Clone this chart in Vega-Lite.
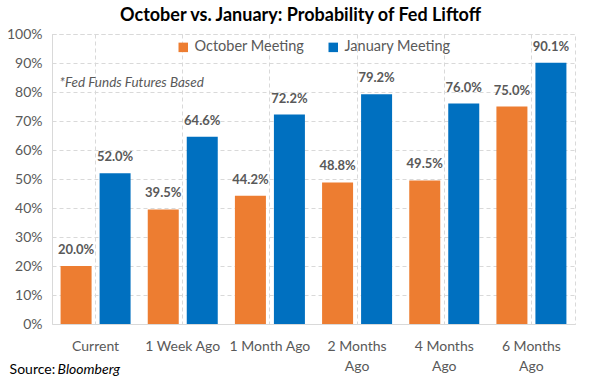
{
  "$schema": "https://vega.github.io/schema/vega-lite/v6.json",
  "width": 523,
  "height": 290,
  "autosize": {"type": "none"},
  "padding": {"left": 52, "top": 34, "right": 14, "bottom": 59},
  "background": "white",
  "title": {"text": "October vs. January: Probability of Fed Liftoff", "font": "Lato", "fontSize": 18, "fontWeight": "bold", "color": "#000000", "anchor": "middle", "dx": -13, "offset": 2},
  "config": {
    "font": "Lato",
    "view": {"stroke": "#d9d9d9", "strokeDash": [4, 3]},
    "axis": {"labelFont": "Lato", "labelFontSize": 14, "labelColor": "#595959", "ticks": false, "domainColor": "#d9d9d9", "gridColor": "#d9d9d9", "gridDash": [4, 3], "title": null}
  },
  "resolve": {"scale": {"y": "independent"}, "axis": {"y": "independent"}},
  "data": {"values": [
    {"cat": "Current", "series": "October Meeting", "v": 0.200},
    {"cat": "Current", "series": "January Meeting", "v": 0.520},
    {"cat": "1 Week Ago", "series": "October Meeting", "v": 0.395},
    {"cat": "1 Week Ago", "series": "January Meeting", "v": 0.646},
    {"cat": "1 Month Ago", "series": "October Meeting", "v": 0.442},
    {"cat": "1 Month Ago", "series": "January Meeting", "v": 0.722},
    {"cat": "2 Months Ago", "series": "October Meeting", "v": 0.488},
    {"cat": "2 Months Ago", "series": "January Meeting", "v": 0.792},
    {"cat": "4 Months Ago", "series": "October Meeting", "v": 0.495},
    {"cat": "4 Months Ago", "series": "January Meeting", "v": 0.760},
    {"cat": "6 Months Ago", "series": "October Meeting", "v": 0.750},
    {"cat": "6 Months Ago", "series": "January Meeting", "v": 0.901}
  ]},
  "layer": [
    {
      "mark": {"type": "bar"},
      "encoding": {
        "x": {"field": "cat", "type": "nominal", "sort": ["Current", "1 Week Ago", "1 Month Ago", "2 Months Ago", "4 Months Ago", "6 Months Ago"],
              "scale": {"paddingInner": 0, "paddingOuter": 0},
              "axis": {"labelAngle": 0, "grid": true, "labelPadding": 15, "labelLineHeight": 20,
                       "labelExpr": "indexof(datum.value, 'Months') >= 0 ? [slice(datum.value, 0, 8), 'Ago'] : datum.value"}},
        "xOffset": {"field": "series", "type": "nominal", "sort": ["October Meeting", "January Meeting"], "scale": {"paddingInner": 0.205, "paddingOuter": 0.22}},
        "y": {"field": "v", "type": "quantitative", "scale": {"domain": [0, 1], "nice": false},
              "axis": {"format": ".0%", "values": [0, 0.1, 0.2, 0.3, 0.4, 0.5, 0.6, 0.7, 0.8, 0.9, 1], "grid": true, "labelPadding": 10, "domain": true, "labelOverlap": false}},
        "color": {"field": "series", "type": "nominal",
                  "scale": {"domain": ["October Meeting", "January Meeting"], "range": ["#ED7D31", "#0070C0"]},
                  "legend": {"title": null, "orient": "none", "legendX": 124, "legendY": 6, "direction": "horizontal", "symbolType": "square", "symbolSize": 90, "symbolStrokeWidth": 0, "labelFontSize": 14.5, "labelColor": "#595959", "labelFont": "Lato", "columnPadding": 21}}
      }
    },
    {
      "mark": {"type": "text", "dy": -9, "fontSize": 13, "fontWeight": "bold", "color": "#595959", "baseline": "bottom"},
      "encoding": {
        "x": {"field": "cat", "type": "nominal", "sort": ["Current", "1 Week Ago", "1 Month Ago", "2 Months Ago", "4 Months Ago", "6 Months Ago"]},
        "xOffset": {"field": "series", "type": "nominal", "sort": ["October Meeting", "January Meeting"]},
        "y": {"field": "v", "type": "quantitative", "scale": {"domain": [0, 1], "nice": false}, "axis": null},
        "text": {"field": "v", "type": "quantitative", "format": ".1%"}
      }
    },
    {
      "data": {"values": [{"note": "*Fed Funds Futures Based"}]},
      "mark": {"type": "text", "align": "left", "baseline": "middle", "fontStyle": "italic", "fontSize": 13.5, "color": "#595959", "dx": -36},
      "encoding": {
        "x": {"datum": "Current"},
        "y": {"datum": 0.83, "scale": {"domain": [0, 1], "nice": false}, "axis": null},
        "text": {"field": "note"}
      }
    },
    {
      "data": {"values": [{"t": "Source:"}]},
      "mark": {"type": "text", "align": "left", "baseline": "middle", "fontSize": 14, "color": "#000000", "dx": -86},
      "encoding": {
        "x": {"datum": "Current"},
        "y": {"datum": -0.16, "scale": {"domain": [0, 1], "nice": false}, "axis": null},
        "text": {"field": "t"}
      }
    },
    {
      "data": {"values": [{"t": "Bloomberg"}]},
      "mark": {"type": "text", "align": "left", "baseline": "middle", "fontSize": 14, "fontStyle": "italic", "color": "#000000", "dx": -38},
      "encoding": {
        "x": {"datum": "Current"},
        "y": {"datum": -0.16, "scale": {"domain": [0, 1], "nice": false}, "axis": null},
        "text": {"field": "t"}
      }
    }
  ]
}
